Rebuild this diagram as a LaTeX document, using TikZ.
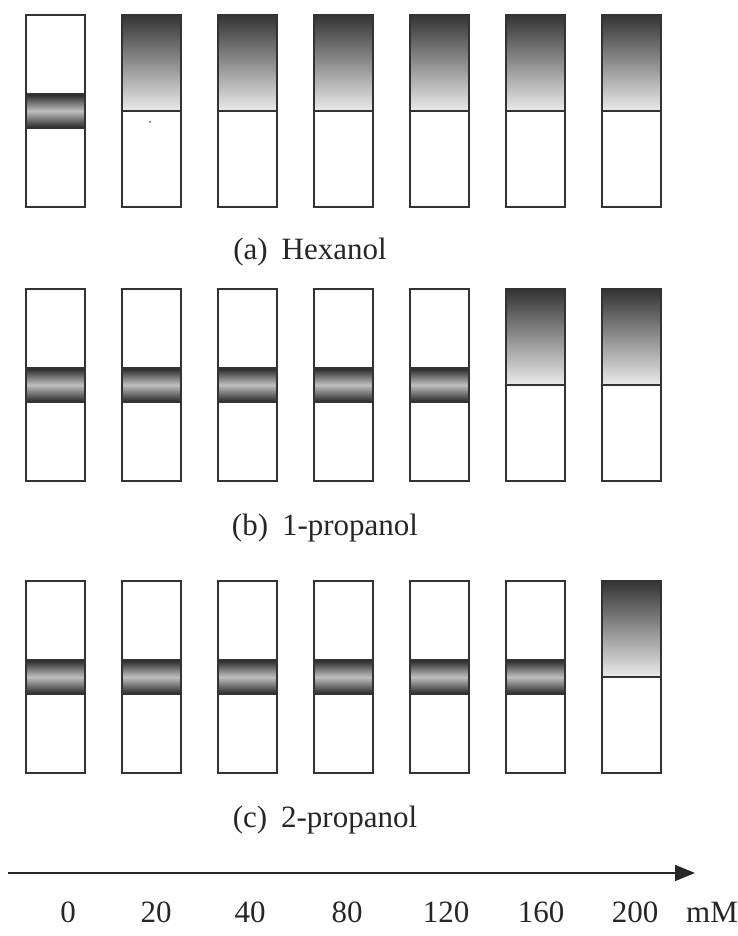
\documentclass[tikz,border=0pt]{standalone}
\usepackage{fontspec}
\setmainfont{Liberation Serif}
\usetikzlibrary{arrows.meta}
\tikzset{
  x=1pt, y=1pt,
  tube/.style={draw=black!80, line width=1.6pt, fill=white, minimum width=59pt, minimum height=192pt, inner sep=0pt, outer sep=0pt},
  rim/.style={draw=black!80, line width=1.6pt},
  grad/.style={top color=black!80, bottom color=black!8},
  bandgrad/.style={top color=black!85, bottom color=black!85, middle color=black!25},
  caption/.style={font=\fontsize{31}{36}\selectfont, text=black!85, inner sep=0pt},
  tick/.style={font=\fontsize{31}{36}\selectfont, text=black!85, inner sep=0pt},
}
\newcommand\topshade[1]{%
  \shade[grad] (#1.north west) rectangle (#1.east);
  \draw[rim] (#1.west) -- (#1.east);
  \draw[rim] (#1.south west) rectangle (#1.north east);}
\newcommand\bandshade[1]{%
  \shade[bandgrad] ([yshift=17pt]#1.west) rectangle ([yshift=-17pt]#1.east);
  \draw[rim, line width=1.3pt] ([yshift=17pt]#1.west) -- ([yshift=17pt]#1.east);
  \draw[rim, line width=1.3pt] ([yshift=-17pt]#1.west) -- ([yshift=-17pt]#1.east);
  \draw[rim] (#1.south west) rectangle (#1.north east);}
\begin{document}
\begin{tikzpicture}
\useasboundingbox (0,0) rectangle (738,936);
% row (a)
\node[tube] (a1) at (55.5,825) {};
\node[tube] (a2) at (151.5,825) {};
\node[tube] (a3) at (247.5,825) {};
\node[tube] (a4) at (343.5,825) {};
\node[tube] (a5) at (439.5,825) {};
\node[tube] (a6) at (535.5,825) {};
\node[tube] (a7) at (631.5,825) {};
\bandshade{a1}
\topshade{a2}\topshade{a3}\topshade{a4}\topshade{a5}\topshade{a6}\topshade{a7}
\fill[black!70] (150,814) circle (1pt);
\node[caption] (la) at (310,684) {(a)\hspace{0.45em}Hexanol};
% row (b)
\node[tube] (b1) at (55.5,551) {};
\node[tube] (b2) at (151.5,551) {};
\node[tube] (b3) at (247.5,551) {};
\node[tube] (b4) at (343.5,551) {};
\node[tube] (b5) at (439.5,551) {};
\node[tube] (b6) at (535.5,551) {};
\node[tube] (b7) at (631.5,551) {};
\bandshade{b1}\bandshade{b2}\bandshade{b3}\bandshade{b4}\bandshade{b5}
\topshade{b6}\topshade{b7}
\node[caption] (lb) at (325,408) {(b)\hspace{0.45em}1-propanol};
% row (c)
\node[tube] (c1) at (55.5,259) {};
\node[tube] (c2) at (151.5,259) {};
\node[tube] (c3) at (247.5,259) {};
\node[tube] (c4) at (343.5,259) {};
\node[tube] (c5) at (439.5,259) {};
\node[tube] (c6) at (535.5,259) {};
\node[tube] (c7) at (631.5,259) {};
\bandshade{c1}\bandshade{c2}\bandshade{c3}\bandshade{c4}\bandshade{c5}\bandshade{c6}
\topshade{c7}
\node[caption] (lc) at (325,116) {(c)\hspace{0.45em}2-propanol};
% axis
\coordinate (s) at (8,63);
\coordinate (e) at (695,63);
\draw[line width=1.6pt, black!85, -{Triangle[length=20pt,width=16pt]}] (s) -- (e);
\node[tick] (t0) at (68,24) {0};
\node[tick] (t1) at (156,24) {20};
\node[tick] (t2) at (250,24) {40};
\node[tick] (t3) at (347,24) {80};
\node[tick] (t4) at (446,24) {120};
\node[tick] (t5) at (541,24) {160};
\node[tick] (t6) at (635,24) {200};
\node[tick] (t7) at (712,24) {mM};
\end{tikzpicture}
\end{document}
